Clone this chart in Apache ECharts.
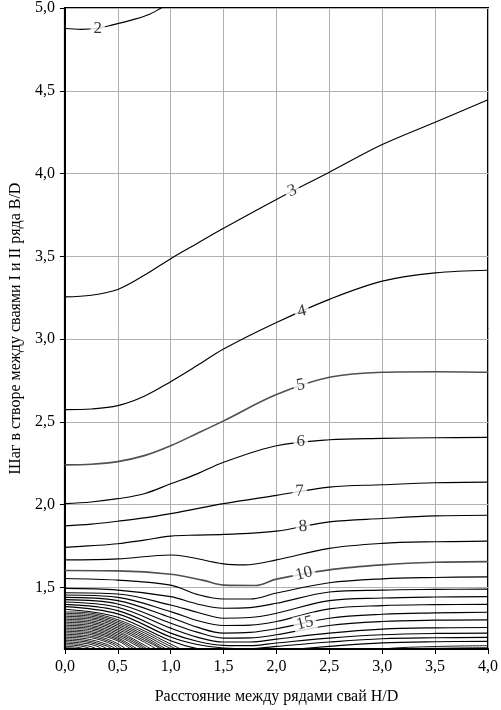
<!DOCTYPE html>
<html>
<head>
<meta charset="utf-8">
<script src="https://cdn.jsdelivr.net/npm/echarts@6/dist/echarts.min.js"></script>
<style>
  html, body { margin: 0; padding: 0; background: #fff; }
  #chart { width: 501px; height: 710px; }
</style>
</head>
<body>
<div id="chart"></div>
<script>
// изолинии, точки: [H/D, B/D]
const c2 = [[0, 4.876], [0.15, 4.871], [0.3, 4.876], [0.42, 4.893], [0.67, 4.934], [0.8, 4.962], [0.91, 5.0], [1.0, 5.03]];
const c3 = [[0, 3.255], [0.25, 3.265], [0.5, 3.3], [0.75, 3.385], [1.0, 3.486], [1.25, 3.578], [1.5, 3.669], [2.0, 3.843], [2.5, 4.008], [3.0, 4.175], [3.5, 4.31], [4.0, 4.446]];
const c4 = [[0, 2.574], [0.25, 2.578], [0.5, 2.598], [0.75, 2.655], [1.0, 2.743], [1.25, 2.84], [1.5, 2.94], [2.0, 3.1], [2.5, 3.24], [3.0, 3.35], [3.5, 3.4], [4.0, 3.416]];
const c5 = [[0, 2.24], [0.25, 2.244], [0.5, 2.26], [0.75, 2.296], [1.0, 2.356], [1.25, 2.43], [1.5, 2.506], [2.0, 2.665], [2.5, 2.769], [3.0, 2.8], [3.5, 2.803], [4.0, 2.8]];
const c6 = [[0, 2.006], [0.25, 2.016], [0.5, 2.036], [0.75, 2.066], [1.0, 2.126], [1.25, 2.186], [1.5, 2.256], [2.0, 2.356], [2.5, 2.392], [3.0, 2.4], [3.5, 2.404], [4.0, 2.406]];
const c7 = [[0, 1.872], [0.25, 1.882], [0.5, 1.9], [0.75, 1.92], [1.0, 1.946], [1.25, 1.976], [1.5, 2.006], [2.0, 2.056], [2.5, 2.106], [3.0, 2.12], [3.5, 2.132], [4.0, 2.136]];
const c8 = [[0, 1.742], [0.25, 1.752], [0.5, 1.764], [0.75, 1.786], [1.0, 1.81], [1.25, 1.816], [1.5, 1.82], [2.0, 1.84], [2.5, 1.896], [3.0, 1.916], [3.5, 1.932], [4.0, 1.936]];
const c9 = [[0, 1.666], [0.5, 1.672], [1.0, 1.696], [1.5, 1.642], [1.7, 1.636], [2.0, 1.666], [2.5, 1.736], [3.0, 1.766], [3.5, 1.776], [4.0, 1.78]];
const c10 = [[0, 1.602], [0.5, 1.6], [1.0, 1.58], [1.3, 1.544], [1.5, 1.514], [1.8, 1.512], [2.0, 1.55], [2.5, 1.606], [3.0, 1.636], [3.5, 1.652], [4.0, 1.656]];

// нижние изолинии 11..20 на общей сетке по H/D
const xMid = [0, 0.5, 1.0, 1.25, 1.5, 1.75, 2.0, 2.5, 3.0, 3.5, 4.0];
const c11 = [1.554, 1.544, 1.514, 1.458, 1.43, 1.43, 1.466, 1.528, 1.552, 1.56, 1.564];
const c12 = [1.494, 1.484, 1.444, 1.4, 1.374, 1.378, 1.404, 1.472, 1.484, 1.488, 1.49];
const c13 = [1.468, 1.46, 1.394, 1.35, 1.314, 1.318, 1.344, 1.42, 1.436, 1.442, 1.444];
const c14 = [1.454, 1.44, 1.354, 1.3, 1.27, 1.272, 1.294, 1.37, 1.39, 1.396, 1.398];
const c15 = [1.44, 1.42, 1.318, 1.26, 1.224, 1.228, 1.25, 1.314, 1.338, 1.346, 1.35];
const c16 = [1.426, 1.4, 1.284, 1.23, 1.194, 1.195, 1.214, 1.27, 1.294, 1.302, 1.304];
const c17 = [1.412, 1.38, 1.254, 1.2, 1.17, 1.17, 1.188, 1.224, 1.248, 1.256, 1.258];
const c18 = [1.398, 1.36, 1.224, 1.175, 1.15, 1.148, 1.164, 1.194, 1.214, 1.222, 1.224];
const c19 = [1.384, 1.34, 1.2, 1.155, 1.134, 1.13, 1.144, 1.17, 1.19, 1.196, 1.198];
const c20 = [1.368, 1.32, 1.178, 1.13, 1.11, 1.105, 1.118, 1.144, 1.165, 1.172, 1.174];

// густая штриховка в левом нижнем углу
const denseLines = [
  [[0, 1.352], [0.25, 1.344], [0.5, 1.305], [0.75, 1.238], [1.0, 1.158], [1.25, 1.09], [2.2, 1.06], [3.0, 1.128], [3.5, 1.143], [4.0, 1.148]],
  [[0, 1.343], [0.25, 1.335], [0.5, 1.295], [0.75, 1.226], [1.0, 1.144], [1.2, 1.09], [2.5, 1.06], [3.2, 1.126], [3.6, 1.133], [4.0, 1.136]],
  [[0, 1.334], [0.25, 1.326], [0.5, 1.285], [0.75, 1.214], [1.0, 1.13], [1.15, 1.09]],
  [[0, 1.325], [0.25, 1.317], [0.5, 1.275], [0.75, 1.203], [0.95, 1.13], [1.05, 1.09]],
  [[0, 1.316], [0.25, 1.308], [0.5, 1.265], [0.75, 1.192], [0.92, 1.13], [1.0, 1.09]],
  [[0, 1.307], [0.25, 1.298], [0.5, 1.255], [0.75, 1.181], [0.9, 1.13], [0.97, 1.09]],
  [[0, 1.298], [0.25, 1.289], [0.5, 1.245], [0.75, 1.17], [0.88, 1.12], [0.93, 1.09]],
  [[0, 1.289], [0.25, 1.28], [0.5, 1.235], [0.7, 1.17], [0.86, 1.11], [0.9, 1.09]],
  [[0, 1.28], [0.25, 1.27], [0.5, 1.225], [0.7, 1.16], [0.84, 1.1]],
  [[0, 1.271], [0.25, 1.261], [0.5, 1.215], [0.7, 1.15], [0.82, 1.1]],
  [[0, 1.262], [0.25, 1.252], [0.5, 1.205], [0.7, 1.14], [0.8, 1.1]],
  [[0, 1.253], [0.25, 1.243], [0.5, 1.195], [0.68, 1.13], [0.76, 1.1]],
  [[0, 1.244], [0.25, 1.233], [0.5, 1.186], [0.65, 1.13], [0.72, 1.1]],
  [[0, 1.235], [0.25, 1.224], [0.5, 1.177], [0.62, 1.13], [0.68, 1.1]],
  [[0, 1.226], [0.25, 1.215], [0.45, 1.175], [0.6, 1.12], [0.64, 1.1]],
  [[0, 1.217], [0.25, 1.205], [0.45, 1.165], [0.56, 1.12], [0.6, 1.1]],
  [[0, 1.208], [0.25, 1.196], [0.45, 1.155], [0.52, 1.12], [0.56, 1.1]],
  [[0, 1.199], [0.2, 1.19], [0.4, 1.155], [0.5, 1.12], [0.52, 1.1]],
  [[0, 1.19], [0.2, 1.18], [0.4, 1.145], [0.46, 1.12], [0.48, 1.1]],
  [[0, 1.181], [0.2, 1.171], [0.35, 1.145], [0.42, 1.12], [0.44, 1.1]],
  [[0, 1.172], [0.2, 1.161], [0.32, 1.14], [0.38, 1.11]],
  [[0, 1.163], [0.15, 1.155], [0.28, 1.135], [0.33, 1.11]],
  [[0, 1.154], [0.15, 1.146], [0.24, 1.13], [0.28, 1.11]],
  [[0, 1.145], [0.12, 1.138], [0.2, 1.125], [0.23, 1.11]],
  [[0, 1.136], [0.1, 1.13], [0.16, 1.11]]
];

// подписи изолиний: текст, H/D, B/D, поворот
const lineLabels = [
  ['2', 0.31, 4.877, 0],
  ['3', 2.15, 3.895, 20],
  ['4', 2.24, 3.168, 14],
  ['5', 2.23, 2.722, 10],
  ['6', 2.23, 2.382, 0],
  ['7', 2.22, 2.08, 3],
  ['8', 2.25, 1.868, 4],
  ['10', 2.26, 1.584, 14],
  ['15', 2.27, 1.284, 14]
];

const xTicks = [0, 0.5, 1.0, 1.5, 2.0, 2.5, 3.0, 3.5, 4.0];
const yTicks = [1.5, 2.0, 2.5, 3.0, 3.5, 4.0, 4.5, 5.0];

const FONT = 'Liberation Serif';
const fmt = (v) => v.toFixed(1).replace('.', ',');
const zipMid = (ys) => ys.map((y, i) => [xMid[i], y]);

const mainLines = [
  [c2, false], [c3, false], [c4, false], [c5, true], [c6, false], [c7, false], [c8, false], [c9, false], [c10, true],
  [zipMid(c11), false], [zipMid(c12), false], [zipMid(c13), false], [zipMid(c14), false], [zipMid(c15), false],
  [zipMid(c16), false], [zipMid(c17), false], [zipMid(c18), false], [zipMid(c19), false], [zipMid(c20), false]
];

const series = [];
mainLines.forEach(([pts, grey]) => {
  series.push({
    type: 'line',
    data: pts,
    smooth: 0.35,
    showSymbol: false,
    silent: true,
    z: 3,
    lineStyle: { color: grey ? '#505050' : '#000', width: grey ? 1.6 : 1.15 }
  });
});
denseLines.forEach((pts) => {
  series.push({
    type: 'line',
    data: pts,
    smooth: 0.35,
    showSymbol: false,
    silent: true,
    z: 3,
    lineStyle: { color: '#000', width: 0.9 }
  });
});
series.push({
  type: 'scatter',
  symbolSize: 0,
  silent: true,
  z: 10,
  data: lineLabels.map(([t, x, y, r]) => ({ name: t, value: [x, y], label: { rotate: r } })),
  label: {
    show: true,
    position: 'inside',
    formatter: (p) => p.name,
    fontFamily: FONT,
    fontSize: 17,
    color: '#000',
    backgroundColor: '#fff',
    padding: [0, 3]
  }
});

const chart = echarts.init(document.getElementById('chart'));
chart.setOption({
  animation: false,
  backgroundColor: '#fff',
  grid: { left: 61, right: 11, top: 7, bottom: 59, show: true, borderColor: '#000', borderWidth: 2 },
  xAxis: {
    type: 'value',
    min: 0,
    max: 4,
    interval: 0.5,
    name: 'Расстояние между рядами свай H/D',
    nameLocation: 'middle',
    nameGap: 40,
    nameTextStyle: { fontFamily: FONT, fontSize: 16, color: '#000' },
    axisLine: { lineStyle: { color: '#000', width: 2 } },
    axisTick: { show: true, length: 5, lineStyle: { color: '#000' } },
    axisLabel: { formatter: fmt, fontFamily: FONT, fontSize: 16, color: '#000', margin: 10, customValues: xTicks },
    splitLine: { show: true, lineStyle: { color: '#b0b0b0', width: 1 } }
  },
  yAxis: {
    type: 'value',
    min: 1.128,
    max: 5,
    name: 'Шаг в створе между сваями I и II ряда B/D',
    nameLocation: 'middle',
    nameGap: 38,
    nameTextStyle: { fontFamily: FONT, fontSize: 16, color: '#000' },
    axisLine: { show: true, lineStyle: { color: '#000', width: 2 } },
    axisTick: { show: true, length: 5, customValues: yTicks, lineStyle: { color: '#000' } },
    axisLabel: { formatter: fmt, fontFamily: FONT, fontSize: 16, color: '#000', margin: 10, customValues: yTicks },
    splitLine: { show: true, lineStyle: { color: '#b0b0b0', width: 1 } }
  },
  series: series
});
</script>
</body>
</html>
